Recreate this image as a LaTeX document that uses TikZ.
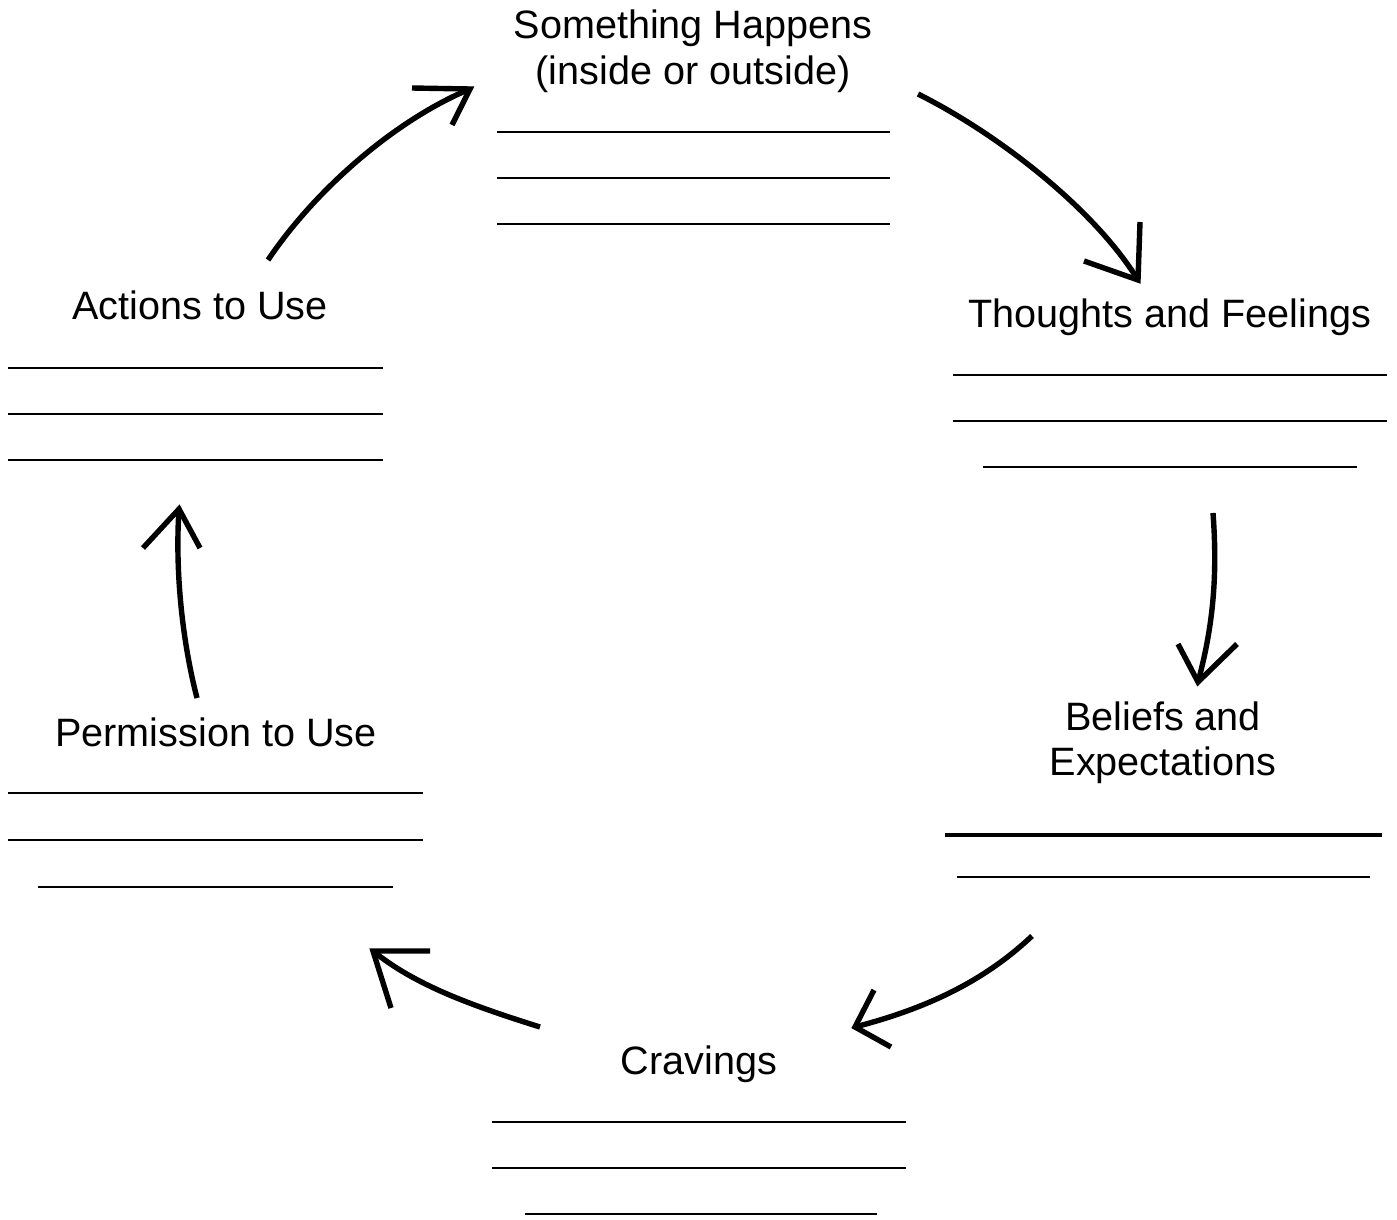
\documentclass[tikz,border=0pt]{standalone}
\usepackage{fontspec}
\setmainfont{Liberation Sans}
\begin{document}
\begin{tikzpicture}[x=0.5pt,y=-0.5pt,
  lbl/.style={anchor=base, inner sep=0pt, font=\fontsize{19.8}{22.8}\selectfont},
  blank/.style={line width=1pt},
  thickblank/.style={line width=2pt},
  arr/.style={line width=2.7pt}]
\useasboundingbox (0,0) rectangle (1397,1220);

% Something Happens
\node[lbl] (sh1) at (693,39) {Something Happens};
\node[lbl] (sh2) at (693,85) {(inside or outside)};
\draw[blank] (497,132) -- (890,132);
\draw[blank] (497,178) -- (890,178);
\draw[blank] (497,224) -- (890,224);

% Thoughts and Feelings
\node[lbl] (tf) at (1170,327) {Thoughts and Feelings};
\draw[blank] (953,375) -- (1387,375);
\draw[blank] (953,421) -- (1387,421);
\draw[blank] (983,467) -- (1357,467);

% Beliefs and Expectations
\node[lbl] (be1) at (1163,730) {Beliefs and};
\node[lbl] (be2) at (1163,775) {Expectations};
\draw[thickblank] (945,835) -- (1382,835);
\draw[blank] (957,877) -- (1370,877);

% Cravings
\node[lbl] (cr) at (699,1074) {Cravings};
\draw[blank] (492,1122) -- (906,1122);
\draw[blank] (492,1168) -- (906,1168);
\draw[blank] (525,1214) -- (877,1214);

% Permission to Use
\node[lbl] (pu) at (216,746) {Permission to Use};
\draw[blank] (8,793) -- (423,793);
\draw[blank] (8,840) -- (423,840);
\draw[blank] (38,887) -- (393,887);

% Actions to Use
\node[lbl] (au) at (200,319) {Actions to Use};
\draw[blank] (8,368) -- (383,368);
\draw[blank] (8,414) -- (383,414);
\draw[blank] (8,460) -- (383,460);

% arrow end points
\coordinate (a1s) at (268,260);  \coordinate (a1t) at (470,89);
\coordinate (a2s) at (918,94);   \coordinate (a2t) at (1138,280);
\coordinate (a3s) at (1213,513); \coordinate (a3t) at (1198,682);
\coordinate (a4s) at (1032,936); \coordinate (a4t) at (855,1027);
\coordinate (a5s) at (540,1027); \coordinate (a5t) at (373,951);
\coordinate (a6s) at (197,698);  \coordinate (a6t) at (179,509);

% arrows
\draw[arr] (a1s) .. controls (315,190) and (395,120) .. (a1t);
\draw[arr] (412,88) -- (a1t) -- (452,125);

\draw[arr] (a2s) .. controls (1000,135) and (1095,210) .. (a2t);
\draw[arr] (1140,222) -- (a2t) -- (1084,261);

\draw[arr] (a3s) .. controls (1218,580) and (1212,630) .. (a3t);
\draw[arr] (1178,644) -- (a3t) -- (1237,644);

\draw[arr] (a4s) .. controls (980,985) and (920,1010) .. (a4t);
\draw[arr] (874,990) -- (a4t) -- (891,1047);

\draw[arr] (a5s) .. controls (470,1005) and (415,985) .. (a5t);
\draw[arr] (430,951) -- (a5t) -- (391,1008);

\draw[arr] (a6s) .. controls (182,640) and (175,570) .. (a6t);
\draw[arr] (143,548) -- (a6t) -- (200,548);
\end{tikzpicture}
\end{document}
